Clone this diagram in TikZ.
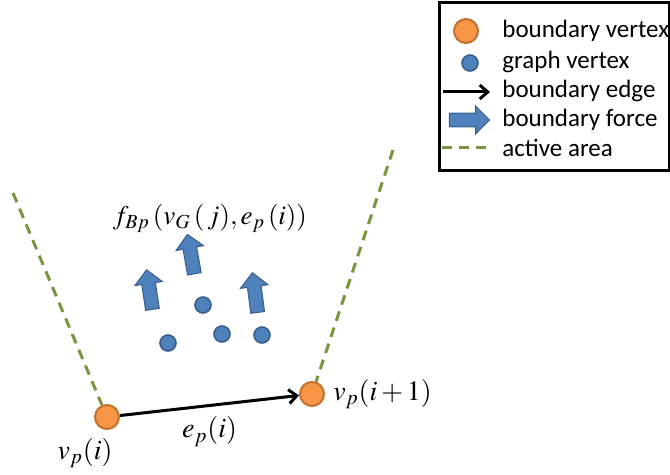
\documentclass[tikz,border=0pt]{standalone}
\usepackage{mathptmx}
\usepackage[no-math]{fontspec}
\setmainfont{Carlito}
\usepackage{xcolor}
\usetikzlibrary{arrows.meta,positioning,shapes.arrows}
\definecolor{vorange}{HTML}{F79646}
\definecolor{vorangeline}{HTML}{C0712F}
\definecolor{vblue}{HTML}{4F81BD}
\definecolor{vblueline}{HTML}{385D8A}
\definecolor{areagreen}{HTML}{7A9441}
\tikzset{
  bvertex/.style={
    circle, draw=vorangeline, fill=vorange,
    line width=1pt, minimum size=12pt, inner sep=0pt},
  gvertex/.style={
    circle, draw=vblueline, fill=vblue,
    line width=0.8pt, minimum size=8pt, inner sep=0pt},
  bforce/.style={
    single arrow, draw=vblueline, fill=vblue,
    line width=0.5pt, minimum height=20pt,
    single arrow head extend=3.5pt, inner xsep=0pt, inner ysep=3.2pt},
  bedge/.style={-{Straight Barb[length=4pt,width=7pt]}, line width=1.5pt},
  area/.style={draw=areagreen, line width=1.5pt, dash pattern=on 5pt off 3.5pt},
  mlabel/.style={font=\fontsize{14}{16}\selectfont, inner sep=1pt},
  legtext/.style={anchor=west, font=\fontsize{12.5}{15}\selectfont, inner sep=0pt},
}

\begin{document}
\begin{tikzpicture}[x=0.5pt, y=-0.5pt]
  \useasboundingbox (0,0) rectangle (670,475);
  % boundary and active area
  \node[bvertex] (bv1) at (107,417) {};
  \node[bvertex] (bv2) at (312,394) {};
  \coordinate (al) at (13,193);
  \coordinate (ar) at (393,150);
  \draw[area] (al) -- (bv1);
  \draw[area] (ar) -- (bv2);
  \draw[bedge] (bv1) -- node[mlabel, below=4pt] (le) {$e_p(i)$} (bv2);
  \node[mlabel, below=3pt of bv1, xshift=-11pt] (lv1) {$v_p(i)$};
  \node[mlabel, right=3pt of bv2] (lv2) {$v_p(i+1)$};
  % graph vertices and forces
  \node[gvertex] (gv1) at (168,343) {};
  \node[gvertex] (gv2) at (203,305) {};
  \node[gvertex] (gv3) at (222,334) {};
  \node[gvertex] (gv4) at (262,335) {};
  \node[bforce, rotate=98.5] (bf1) at (150,293) {};
  \node[bforce, rotate=100] (bf2) at (191.5,257.5) {};
  \node[bforce, rotate=97.5] (bf3) at (255.5,296) {};
  \node[font=\fontsize{13.5}{15}\selectfont, inner sep=0pt] (fl) at (210,218)
    {$f_{Bp}\,(v_G\,(\,j),e_p\,(i))$};
  % legend
  \node[draw, line width=1.5pt, minimum width=115pt, minimum height=84pt] (leg) at (554,87) {};
  \node[bvertex] (lbv) at (466,31) {};
  \node[gvertex] (lgv) at (470,63) {};
  \coordinate (le1) at (443,92);
  \coordinate (le2) at (490,92);
  \draw[bedge] (le1) -- (le2);
  \node[bforce] (lbf) at (466,120) {};
  \coordinate (la1) at (442,148);
  \coordinate (la2) at (490,148);
  \draw[area] (la1) -- (la2);
  \node[legtext] (t1) at (502,31) {boundary vertex};
  \node[legtext] (t2) at (502,62) {graph vertex};
  \node[legtext] (t3) at (502,91) {boundary edge};
  \node[legtext] (t4) at (502,120) {boundary force};
  \node[legtext] (t5) at (502,148) {active area};
\end{tikzpicture}
\end{document}
